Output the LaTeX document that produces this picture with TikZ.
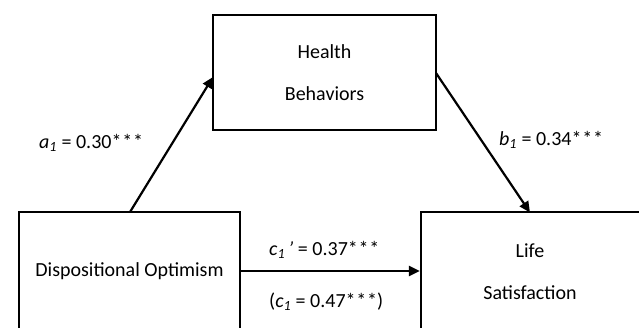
\documentclass[tikz,border=0pt]{standalone}
\usepackage{fontspec}
\setmainfont{Carlito}
\usetikzlibrary{arrows.meta}
\newcommand{\stars}{*\kern0.8pt*\kern0.8pt*}
\begin{document}
\begin{tikzpicture}[x=1pt,y=1pt,
  box/.style={draw=black,line width=2.2pt,rectangle,inner sep=0pt,align=center,font=\fontsize{20}{42}\selectfont},
  conn/.style={line width=2.2pt,-{Triangle[length=11pt,width=10pt]}},
  lab/.style={font=\fontsize{20}{22}\selectfont,inner sep=0pt}]
\useasboundingbox (0,0) rectangle (639,-327);
\clip (0,0) rectangle (639,-327);
\node[box,minimum width=223,minimum height=115] (hb) at (324.5,-72.5) {Health\\Behaviors};
\node[box,minimum width=221,minimum height=118] (do) at (129.5,-271) {Dispositional Optimism};
\node[box,minimum width=230,minimum height=119] (ls) at (536,-271.5) {};
\node[font=\fontsize{20}{42}\selectfont,align=center,inner sep=0pt] (lt) at (530,-271.5) {Life\\Satisfaction};
\coordinate (aS) at (130,-212);
\coordinate (aE) at (213,-77);
\coordinate (bS) at (436,-73);
\coordinate (bE) at (530,-212.5);
\draw[conn] (aS) -- (aE);
\draw[conn] (bS) -- (bE);
\draw[conn] (do.east) -- (do.east -| ls.west);
\node[lab,anchor=west] (la) at (39,-143) {\textit{a\textsubscript{1}} = 0.30\stars};
\node[lab,anchor=west] (lb) at (499,-140) {\textit{b\textsubscript{1}} = 0.34\stars};
\node[lab,anchor=west] (lc) at (269,-250) {\textit{c\textsubscript{1}\,'} = 0.37\stars};
\node[lab,anchor=west] (ld) at (269,-302) {(\textit{c\textsubscript{1}} = 0.47\stars)};
\end{tikzpicture}
\end{document}
